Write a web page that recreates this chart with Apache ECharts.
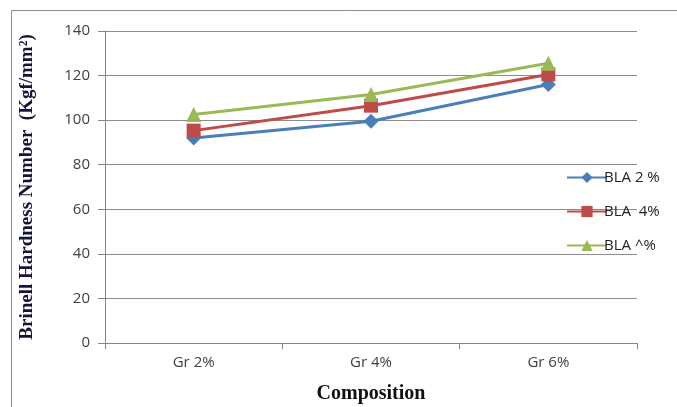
<!DOCTYPE html>
<html>
<head>
<meta charset="utf-8">
<script src="https://cdn.jsdelivr.net/npm/echarts@6/dist/echarts.min.js"></script>
<style>
  html, body { margin: 0; padding: 0; background: #fff; }
  #chart { width: 677px; height: 407px; }
</style>
</head>
<body>
<div id="chart"></div>
<script>
// Brinell hardness of the composites by graphite content
const categories = ['Gr 2%', 'Gr 4%', 'Gr 6%'];
const bla2 = [92, 99.5, 116];
const bla4 = [95.3, 106.5, 120.5];
const bla6 = [102.5, 111.5, 125.5];
const seriesNames = ['BLA 2 %', 'BLA  4%', 'BLA ^%'];
const yTicks = { min: 0, max: 140, interval: 20 };

const chart = echarts.init(document.getElementById('chart'), null, { renderer: 'canvas' });

const tickFont = { fontFamily: 'Open Sans', fontSize: 15, color: '#404040' };

function lineSeries(name, data, color, symbol, size) {
  return {
    name: name,
    type: 'line',
    data: data,
    symbol: symbol,
    symbolSize: size,
    showAllSymbol: true,
    lineStyle: { color: color, width: 3 },
    itemStyle: { color: color },
    emphasis: { disabled: true },
    animation: false
  };
}

chart.setOption({
  backgroundColor: '#fff',
  animation: false,
  graphic: [{
    type: 'rect',
    shape: { x: 11.5, y: 10.5, width: 700, height: 420 },
    style: { fill: 'none', stroke: '#8c8c8c', lineWidth: 1 },
    z: -1
  }],
  grid: { left: 105, right: 40, top: 31, bottom: 64, outerBoundsMode: 'none', containLabel: false },
  legend: {
    orient: 'vertical',
    left: 561,
    top: 165,
    itemWidth: 40,
    itemHeight: 14,
    itemGap: 19,
    data: seriesNames,
    textStyle: { fontFamily: 'Open Sans', fontSize: 15, color: '#222', padding: [0, 0, 0, -8] }
  },
  xAxis: {
    type: 'category',
    data: categories,
    boundaryGap: true,
    axisLine: { lineStyle: { color: '#868686', width: 1 } },
    axisTick: { show: true, length: 6, inside: false, alignWithLabel: false, lineStyle: { color: '#868686' } },
    axisLabel: Object.assign({ margin: 12 }, tickFont),
    name: 'Composition',
    nameLocation: 'middle',
    nameGap: 41,
    nameTextStyle: { fontFamily: 'Liberation Serif', fontWeight: 'bold', fontSize: 20, color: '#111' },
    splitLine: { show: false }
  },
  yAxis: {
    type: 'value',
    min: yTicks.min,
    max: yTicks.max,
    interval: yTicks.interval,
    axisLine: { show: true, lineStyle: { color: '#868686', width: 1 } },
    axisTick: { show: true, length: 7, lineStyle: { color: '#868686' } },
    axisLabel: Object.assign({ margin: 15 }, tickFont),
    splitLine: { show: true, lineStyle: { color: '#8c8c8c', width: 1 } },
    name: 'Brinell Hardness Number  (Kgf/mm²)',
    nameLocation: 'middle',
    nameGap: 68,
    nameRotate: 90,
    nameTextStyle: { fontFamily: 'Liberation Serif', fontWeight: 'bold', fontSize: 19, color: '#14143a' }
  },
  series: [
    lineSeries(seriesNames[0], bla2, '#4a7ebb', 'diamond', 15),
    lineSeries(seriesNames[1], bla4, '#be4b48', 'rect', 14),
    lineSeries(seriesNames[2], bla6, '#98b954', 'triangle', 15)
  ]
});
</script>
</body>
</html>
